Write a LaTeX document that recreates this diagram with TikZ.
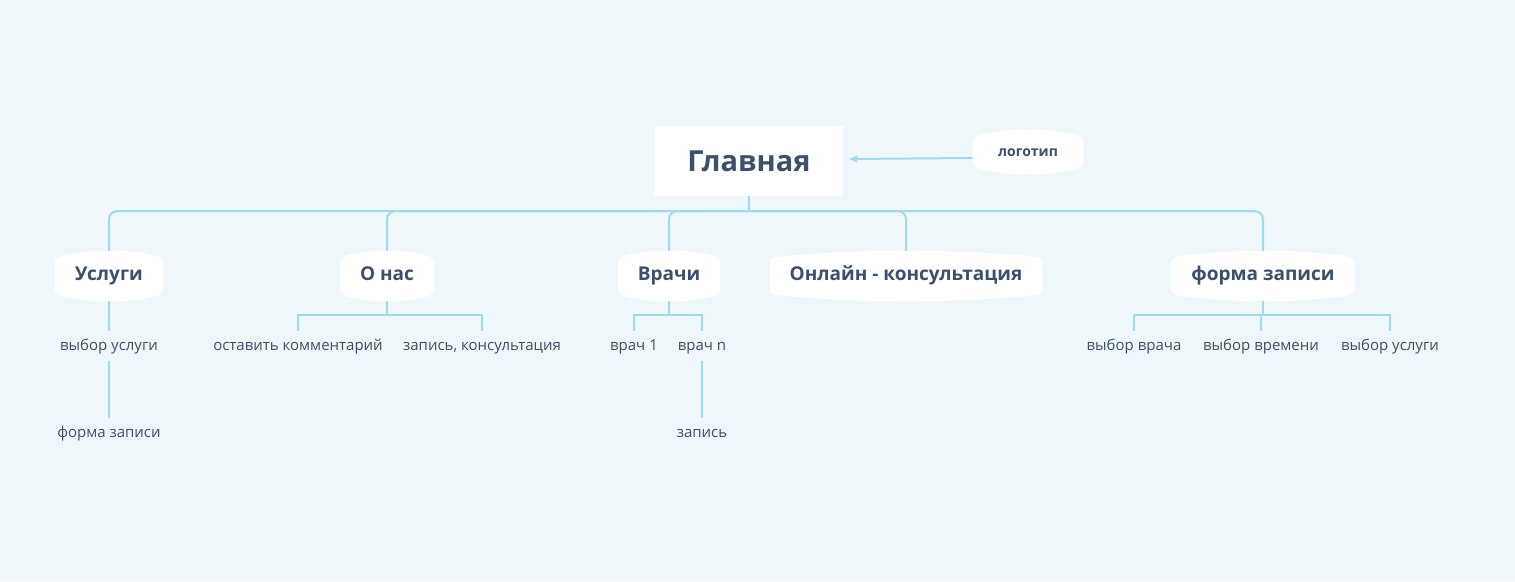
\documentclass[tikz,border=0pt]{standalone}
\usepackage{fontspec}
\setmainfont{Open Sans}
\usetikzlibrary{calc,backgrounds,arrows.meta}
\definecolor{mapbg}{RGB}{239,247,250}
\definecolor{mapline}{RGB}{160,218,236}
\definecolor{maptext}{RGB}{62,79,104}
\tikzset{
  rootbox/.style={fill=white, text=maptext, font=\bfseries\fontsize{29}{33}\selectfont, minimum width=188pt, minimum height=70pt, inner sep=0pt},
  topic/.style={text=maptext, font=\bfseries\fontsize{19}{23}\selectfont, text height=.85em, text depth=0pt, minimum height=50pt, inner xsep=20pt, inner ysep=0pt},
  logobox/.style={topic, font=\bfseries\fontsize{14}{17}\selectfont, minimum width=111pt, minimum height=44pt},
  leaf/.style={text=maptext, font=\fontsize{15}{18}\selectfont, text height=.85em, text depth=0pt, minimum height=30pt, inner sep=0pt},
  branch/.style={draw=mapline, line width=2pt, rounded corners=8pt},
  twig/.style={draw=mapline, line width=2pt},
}

\begin{document}
\begin{tikzpicture}[x=1pt, y=-1pt]
\useasboundingbox (0,0) rectangle (1515,581);
\node[rootbox] (root) at (749,161) {Главная};
\node[logobox] (logo) at (1028,152) {логотип};
\node[topic] (uslugi) at (109,276) {Услуги};
\node[topic] (onas) at (387,276) {О нас};
\node[topic] (vrachi) at (669,276) {Врачи};
\node[topic] (online) at (906,276) {Онлайн - консультация};
\node[topic] (forma) at (1263,276) {форма записи};

\node[leaf] (vyboruslugi) at (109,346) {выбор услуги};
\node[leaf] (formazapisi) at (109,433) {форма записи};
\node[leaf] (komment) at (298,346) {оставить комментарий};
\node[leaf] (zapkons) at (482,346) {запись, консультация};
\node[leaf] (vrach1) at (634,346) {врач 1};
\node[leaf] (vrachn) at (702,346) {врач n};
\node[leaf] (zapis) at (702,433) {запись};
\node[leaf] (vybvracha) at (1134,346) {выбор врача};
\node[leaf] (vybvremeni) at (1261,346) {выбор времени};
\node[leaf] (vybuslugi) at (1390,346) {выбор услуги};

\begin{scope}[on background layer]
\fill[mapbg] (0,0) rectangle (1515,581);
\foreach \n in {logo,uslugi,onas,vrachi,online,forma}
  \fill[white, rounded corners=5pt] ([yshift=7pt]\n.south west) -- ([yshift=-7pt]\n.north west)
    .. controls ([yshift=2.3pt]$(\n.north west)!.3!(\n.north east)$) and ([yshift=2.3pt]$(\n.north west)!.7!(\n.north east)$) .. ([yshift=-7pt]\n.north east)
    -- ([yshift=7pt]\n.south east)
    .. controls ([yshift=-2.3pt]$(\n.south west)!.7!(\n.south east)$) and ([yshift=-2.3pt]$(\n.south west)!.3!(\n.south east)$) .. cycle;
\end{scope}

\draw[twig, -{Latex[length=9pt,width=8pt]}] ([yshift=-6pt]logo.west) -- ([xshift=5pt,yshift=2pt]root.east);
\draw[twig] (root.south) -- ++(0,15);
\foreach \c in {uslugi,onas,vrachi,online,forma}
  \draw[branch] ([yshift=-15pt]root.south) -| (\c.north);

\draw[twig] (uslugi) -- (vyboruslugi) -- (formazapisi);
\foreach \c in {komment,zapkons}
  \draw[twig] (onas.south) -- ++(0,14) -| (\c.north);
\foreach \c in {vrach1,vrachn}
  \draw[twig] (vrachi.south) -- ++(0,14) -| (\c.north);
\draw[twig] (vrachn) -- (zapis);
\foreach \c in {vybvracha,vybvremeni,vybuslugi}
  \draw[twig] (forma.south) -- ++(0,14) -| (\c.north);
\end{tikzpicture}
\end{document}
